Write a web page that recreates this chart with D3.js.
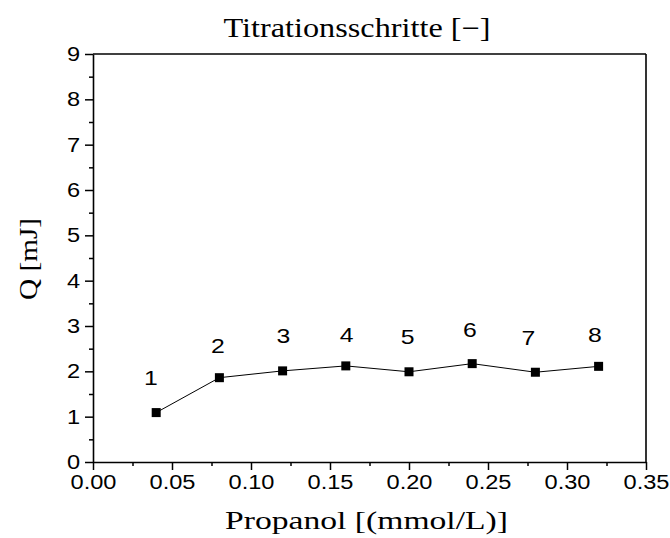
<!DOCTYPE html>
<html>
<head>
<meta charset="utf-8">
<script src="https://cdn.jsdelivr.net/npm/d3@7"></script>
<style>
  body { margin: 0; background: #fff; }
  svg { display: block; }
</style>
</head>
<body>
<svg id="chart" width="670" height="538"></svg>
<script>
// Titration steps: propanol concentration (mmol/L) vs. heat per injection Q (mJ)
const propanol = [0.04, 0.08, 0.12, 0.16, 0.20, 0.24, 0.28, 0.32];
const heatQ    = [1.09, 1.86, 2.01, 2.12, 1.99, 2.17, 1.98, 2.11];
const stepLabels = ["1", "2", "3", "4", "5", "6", "7", "8"];
// annotation anchor for each step number (data units)
const stepLabelX = [0.0367, 0.079, 0.1205, 0.1605, 0.1992, 0.2386, 0.2755, 0.3177];
const stepLabelY = [1.86, 2.58, 2.79, 2.82, 2.76, 2.93, 2.75, 2.82];

const xTicks = [0, 0.05, 0.10, 0.15, 0.20, 0.25, 0.30, 0.35];
const xMinorTicks = [0.025, 0.075, 0.125, 0.175, 0.225, 0.275, 0.325];
const yTicks = [0, 1, 2, 3, 4, 5, 6, 7, 8, 9];
const yMinorTicks = [0.5, 1.5, 2.5, 3.5, 4.5, 5.5, 6.5, 7.5, 8.5];

const titleText = "Titrationsschritte [\u2212]";
const xLabelText = "Propanol [(mmol/L)]";
const yLabelText = "Q [mJ]";

const svg = d3.select("#chart");
const m = { left: 93, top: 54, right: 646, bottom: 462 };

const x = d3.scaleLinear().domain([0, 0.35]).range([m.left, m.right]);
const y = d3.scaleLinear().domain([0, 9]).range([m.bottom, m.top]);

const sansFont = "'Liberation Sans', Arial, sans-serif";
const serifFont = "'Liberation Serif', 'Times New Roman', serif";
const stretch = 1.18;

function widen(sel, factor) {
  sel.each(function () {
    const w = this.getComputedTextLength();
    d3.select(this).attr("textLength", w * factor).attr("lengthAdjust", "spacingAndGlyphs");
  });
}

// minor ticks
svg.append("g")
  .attr("transform", `translate(0,${m.bottom})`)
  .call(d3.axisBottom(x).tickValues(xMinorTicks).tickSize(4).tickFormat(""))
  .call(g => g.select(".domain").remove())
  .call(g => g.selectAll("line").attr("stroke", "#000").attr("stroke-width", 1.5));

svg.append("g")
  .attr("transform", `translate(${m.left},0)`)
  .call(d3.axisLeft(y).tickValues(yMinorTicks).tickSize(4).tickFormat(""))
  .call(g => g.select(".domain").remove())
  .call(g => g.selectAll("line").attr("stroke", "#000").attr("stroke-width", 1.5));

// major axes
const xAxis = svg.append("g")
  .attr("transform", `translate(0,${m.bottom})`)
  .call(d3.axisBottom(x).tickValues(xTicks).tickSize(8).tickSizeOuter(0).tickPadding(5).tickFormat(d3.format(".2f")));
xAxis.select(".domain").attr("stroke", "#000").attr("stroke-width", 1.6);
xAxis.selectAll("line").attr("stroke", "#000").attr("stroke-width", 1.5);
xAxis.selectAll("text").attr("font-family", sansFont).attr("font-size", 20).attr("fill", "#000");

const yAxis = svg.append("g")
  .attr("transform", `translate(${m.left},0)`)
  .call(d3.axisLeft(y).tickValues(yTicks).tickSize(8).tickSizeOuter(0).tickPadding(5).tickFormat(d3.format("d")));
yAxis.select(".domain").attr("stroke", "#000").attr("stroke-width", 1.6);
yAxis.selectAll("line").attr("stroke", "#000").attr("stroke-width", 1.5);
yAxis.selectAll("text").attr("font-family", sansFont).attr("font-size", 20).attr("fill", "#000");

// frame top and right
svg.append("line").attr("x1", m.left).attr("x2", m.right).attr("y1", m.top).attr("y2", m.top)
  .attr("stroke", "#000").attr("stroke-width", 1.6);
svg.append("line").attr("x1", m.right).attr("x2", m.right).attr("y1", m.top).attr("y2", m.bottom)
  .attr("stroke", "#000").attr("stroke-width", 1.6);

xAxis.selectAll("text").call(widen, stretch);
yAxis.selectAll("text").call(widen, stretch);

// series line and markers
const pts = propanol.map((v, i) => [v, heatQ[i]]);
svg.append("path")
  .datum(pts)
  .attr("fill", "none")
  .attr("stroke", "#000")
  .attr("stroke-width", 1)
  .attr("d", d3.line().x(d => x(d[0])).y(d => y(d[1])));

const sq = 9;
svg.append("g").selectAll("rect")
  .data(pts)
  .join("rect")
  .attr("x", d => x(d[0]) - sq / 2)
  .attr("y", d => y(d[1]) - sq / 2)
  .attr("width", sq)
  .attr("height", sq)
  .attr("fill", "#000");

// step numbers
svg.append("g").selectAll("text")
  .data(stepLabels)
  .join("text")
  .attr("x", (d, i) => x(stepLabelX[i]))
  .attr("y", (d, i) => y(stepLabelY[i]))
  .attr("dy", "0.36em")
  .attr("text-anchor", "middle")
  .attr("font-family", sansFont)
  .attr("font-size", 21)
  .attr("fill", "#000")
  .text(d => d)
  .call(widen, stretch);

// titles
svg.append("text")
  .attr("x", 357).attr("y", 37)
  .attr("text-anchor", "middle")
  .attr("font-family", serifFont).attr("font-size", 27)
  .text(titleText)
  .attr("textLength", 267).attr("lengthAdjust", "spacingAndGlyphs");

svg.append("text")
  .attr("x", 366.5).attr("y", 529)
  .attr("text-anchor", "middle")
  .attr("font-family", serifFont).attr("font-size", 26)
  .text(xLabelText)
  .attr("textLength", 283).attr("lengthAdjust", "spacingAndGlyphs");

svg.append("text")
  .attr("transform", "translate(37,259) rotate(-90)")
  .attr("text-anchor", "middle")
  .attr("font-family", serifFont).attr("font-size", 26)
  .text(yLabelText)
  .attr("textLength", 82).attr("lengthAdjust", "spacingAndGlyphs");
</script>
</body>
</html>
